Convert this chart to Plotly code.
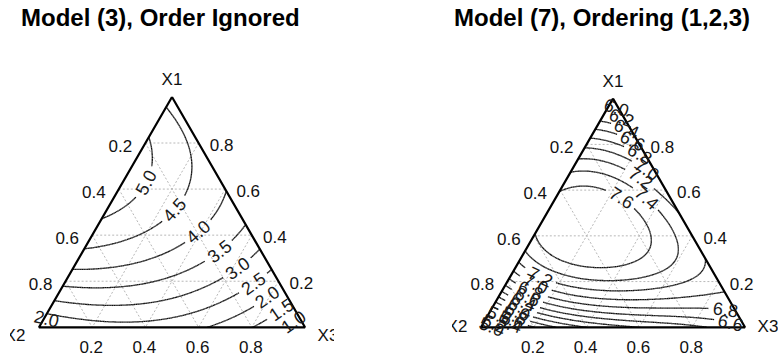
import numpy as np
import plotly.graph_objects as go

W, H = 778, 362

# Fitted mixture models, Scheffe-type polynomial coefficients for the terms
# x1, x2, x3, x1x2, x1x3, x2x3, x1x2(x1-x2), x1x3(x1-x3), x2x3(x2-x3), x1x2x3
coef_model3 = [4.27, 1.92, 0.65, 7.92, 5.0, 3.8, 0.0, 0.0, 0.0, -4.0]
coef_model7 = [5.8, 4.8, 6.6, 9.52, 4.0, 1.67, -2.0, 0.0, 1.67, 8.8]

# contour levels: start, end, step
levels_model3 = (1.0, 5.0, 0.5)
levels_model7 = (4.0, 7.6, 0.2)

titles = ["Model (3), Order Ignored", "Model (7), Ordering (1,2,3)"]
vertex_names = ["X1", "X2", "X3"]
ticks = [0.2, 0.4, 0.6, 0.8]
tick_text = ["0.2", "0.4", "0.6", "0.8"]

# where the contour values are written: a segment (mixture -> mixture), the
# levels labelled where the segment meets them, and a small text shift in px
label_paths_model3 = [
    ((0.64, 0.29, 0.07), (0.0, 0.02, 0.98), [5.0, 4.5, 4.0, 3.5, 3.0, 2.5, 2.0, 1.5, 1.0], (0, 0)),
    ((0.0, 1.0, 0.0), (0.2, 0.6, 0.2), [2.0], (5, 7)),
]
label_paths_model7 = [
    ((0.985, 0.005, 0.01), (0.40, 0.05, 0.55), [6.0, 6.2, 6.4, 6.6, 6.8, 7.0], (0, 0)),
    ((0.78, 0.04, 0.18), (0.45, 0.12, 0.43), [7.2, 7.4], (0, 0)),
    ((1.0, 0.0, 0.0), (0.3, 0.3, 0.4), [7.6], (0, 0)),
    ((0.34, 0.54, 0.12), (0.0, 0.90, 0.10), [7.2, 7.0, 6.8, 6.6, 6.4, 6.2, 6.0, 5.8, 5.6, 5.4], (0, 0)),
    ((0.16, 0.78, 0.06), (0.0, 0.96, 0.04), [5.6, 5.2, 5.0], (0, 0)),
    ((0.25, 0.0, 0.75), (0.0, 0.05, 0.95), [6.6, 6.8], (0, 0)),
]

SQ = np.sqrt(3) / 2
FONT = "Liberation Sans, Arial, sans-serif"
LABEL_SIZE = 18


def response(c, x1, x2, x3):
    return (c[0] * x1 + c[1] * x2 + c[2] * x3
            + c[3] * x1 * x2 + c[4] * x1 * x3 + c[5] * x2 * x3
            + c[6] * x1 * x2 * (x1 - x2) + c[7] * x1 * x3 * (x1 - x3)
            + c[8] * x2 * x3 * (x2 - x3) + c[9] * x1 * x2 * x3)


def to_xy(x1, x2, x3):
    # X2 at (0,0), X3 at (1,0), X1 at the apex
    x1, x2, x3 = np.asarray(x1, float), np.asarray(x2, float), np.asarray(x3, float)
    return x3 + 0.5 * x1, SQ * x1


def from_xy(u, v):
    x1 = v / SQ
    x3 = u - 0.5 * x1
    return x1, 1 - x1 - x3, x3


def simplex_mesh(n):
    # regular triangulation of the simplex
    index = {}
    pts = []
    for i in range(n + 1):
        for j in range(n + 1 - i):
            index[(i, j)] = len(pts)
            pts.append((i / n, 1 - i / n - j / n, j / n))
    tris = []
    for i in range(n):
        for j in range(n - i):
            tris.append((index[(i, j)], index[(i + 1, j)], index[(i, j + 1)]))
            if i + j <= n - 2:
                tris.append((index[(i + 1, j)], index[(i + 1, j + 1)], index[(i, j + 1)]))
    return np.array(pts), np.array(tris)


def level_segments(xy, f, tris, lev):
    # marching triangles: the piece of the level line inside every mesh cell
    fv = f[tris] - lev
    pv = xy[tris]
    cross, where = [], []
    for a, b in ((0, 1), (1, 2), (2, 0)):
        fa, fb = fv[:, a], fv[:, b]
        m = (fa > 0) != (fb > 0)
        den = np.where(m, fa - fb, 1.0)
        w = np.where(m, fa / den, 0.0)
        cross.append(m)
        where.append(pv[:, a] + (pv[:, b] - pv[:, a]) * w[:, None])
    C = np.stack(cross, 1)
    P = np.stack(where, 1)
    sel = C.sum(1) == 2
    C, P = C[sel], P[sel]
    order = np.argsort(~C, axis=1, kind="stable")[:, :2]
    r = np.arange(len(P))
    return P[r, order[:, 0]], P[r, order[:, 1]]


def surface_uv(c, u, v):
    return response(c, *from_xy(u, v))


def contour_labels(c, paths, side):
    out = []
    t = np.linspace(0, 1, 4001)
    for a, b, levs, (ox, oy) in paths:
        pts = np.outer(1 - t, a) + np.outer(t, b)
        f = response(c, pts[:, 0], pts[:, 1], pts[:, 2])
        for lev in levs:
            d = f - lev
            idx = np.where(np.sign(d[:-1]) != np.sign(d[1:]))[0]
            if len(idx) == 0:
                continue
            j = idx[0]
            w = d[j] / (d[j] - d[j + 1])
            p = pts[j] * (1 - w) + pts[j + 1] * w
            u, v = to_xy(*p)
            e = 1e-5
            gu = (surface_uv(c, u + e, v) - surface_uv(c, u - e, v)) / (2 * e)
            gv = (surface_uv(c, u, v + e) - surface_uv(c, u, v - e)) / (2 * e)
            ang = np.degrees(np.arctan2(gu, -gv))  # direction of the level line
            if ang > 90:
                ang -= 180
            if ang <= -90:
                ang += 180
            out.append((lev, float(u), float(v), float(ang), "%.1f" % lev,
                        float(u) + ox / side, float(v) + oy / side))
    return out


# panel placement in pixels: X2 corner x, side length, base line y, visible x-span
panels = [
    dict(x0=39.0, side=266.0, base=327.3, span=(10.0, 334.0), title_x=160.0,
         coef=coef_model3, lev=levels_model3, lab=label_paths_model3, corner_dy=-9),
    dict(x0=481.0, side=264.0, base=327.3, span=(452.0, 778.0), title_x=602.0,
         coef=coef_model7, lev=levels_model7, lab=label_paths_model7, corner_dy=0),
]

mesh_pts, mesh_tris = simplex_mesh(150)
mu, mv = to_xy(mesh_pts[:, 0], mesh_pts[:, 1], mesh_pts[:, 2])
mesh_xy = np.column_stack([mu, mv])

fig = go.Figure()
layout = dict(width=W, height=H, autosize=False, margin=dict(l=0, r=0, t=0, b=0),
              paper_bgcolor="white", plot_bgcolor="white", showlegend=False)

annotations = []
for i, p in enumerate(panels):
    ax = "" if i == 0 else str(i + 1)
    xa, ya = "x" + ax, "y" + ax
    s = p["side"]
    layout["xaxis" + ax] = dict(domain=[p["span"][0] / W, p["span"][1] / W],
                               range=[(p["span"][0] - p["x0"]) / s, (p["span"][1] - p["x0"]) / s],
                               visible=False, fixedrange=True, anchor=ya)
    layout["yaxis" + ax] = dict(domain=[0, 1], range=[(p["base"] - H) / s, p["base"] / s],
                               visible=False, fixedrange=True, anchor=xa)

    # dotted reference grid parallel to the three sides
    gx, gy = [], []
    for k in ticks:
        for a, b in (((k, 1 - k, 0), (k, 0, 1 - k)),
                     ((1 - k, k, 0), (0, k, 1 - k)),
                     ((1 - k, 0, k), (0, 1 - k, k))):
            xa_, ya_ = to_xy(*a)
            xb_, yb_ = to_xy(*b)
            gx += [float(xa_), float(xb_), None]
            gy += [float(ya_), float(yb_), None]
    fig.add_trace(go.Scatter(x=gx, y=gy, xaxis=xa, yaxis=ya, mode="lines",
                             line=dict(color="#b8b8b8", width=1, dash="2px,2px"),
                             hoverinfo="skip"))

    labels = contour_labels(p["coef"], p["lab"], s)

    # contour lines of the fitted surface, broken where a value is written
    fval = response(p["coef"], mesh_pts[:, 0], mesh_pts[:, 1], mesh_pts[:, 2])
    st, en, sz = p["lev"]
    cx, cy = [], []
    for lev in np.arange(st, en + sz / 2, sz):
        p0, p1 = level_segments(mesh_xy, fval, mesh_tris, lev)
        if len(p0) == 0:
            continue
        keep = np.ones(len(p0), bool)
        mid = (p0 + p1) / 2
        for lv, u, v, ang, txt, tu, tv in labels:
            if abs(lv - lev) > 1e-6:
                continue
            th = np.radians(ang)
            d = mid - np.array([u, v])
            along = d[:, 0] * np.cos(th) + d[:, 1] * np.sin(th)
            across = -d[:, 0] * np.sin(th) + d[:, 1] * np.cos(th)
            half_len = (0.28 * LABEL_SIZE * len(txt) + 2) / s
            keep &= ~((np.abs(along) < half_len) & (np.abs(across) < 0.6 * LABEL_SIZE / s))
        p0, p1 = p0[keep], p1[keep]
        nan = np.full(len(p0), np.nan)
        cx.append(np.column_stack([p0[:, 0], p1[:, 0], nan]).ravel())
        cy.append(np.column_stack([p0[:, 1], p1[:, 1], nan]).ravel())
    fig.add_trace(go.Scatter(x=np.concatenate(cx), y=np.concatenate(cy), xaxis=xa, yaxis=ya,
                             mode="lines", line=dict(color="#111111", width=1.3),
                             connectgaps=False, hoverinfo="skip"))

    # triangle outline
    tx, ty = to_xy([1, 0, 0, 1], [0, 1, 0, 0], [0, 0, 1, 0])
    fig.add_trace(go.Scatter(x=tx, y=ty, xaxis=xa, yaxis=ya, mode="lines",
                             line=dict(color="black", width=2.2), hoverinfo="skip"))

    # axis tick labels
    lx, ly, lt = [], [], []
    for k, t in zip(ticks, tick_text):
        # X2 values along the left side
        x, y = to_xy(1 - k, k, 0)
        lx.append(float(x) - 25 / s); ly.append(float(y) - 4.5 / s); lt.append(t)
        # X1 values along the right side
        x, y = to_xy(k, 0, 1 - k)
        lx.append(float(x) + 23 / s); ly.append(float(y) - 4 / s); lt.append(t)
        # X3 values along the base
        x, y = to_xy(0, 1 - k, k)
        lx.append(float(x) - 1 / s); ly.append(float(y) - 21 / s); lt.append(t)
    # vertex names
    cdy = p["corner_dy"]
    for (b, (dx, dy)), name in zip((((1, 0, 0), (0, 16)), ((0, 1, 0), (-24, cdy)),
                                    ((0, 0, 1), (23, cdy))), vertex_names):
        x, y = to_xy(*b)
        lx.append(float(x) + dx / s); ly.append(float(y) + dy / s); lt.append(name)
    fig.add_trace(go.Scatter(x=lx, y=ly, text=lt, xaxis=xa, yaxis=ya, mode="text",
                             textfont=dict(family=FONT, size=17, color="#111111"),
                             hoverinfo="skip", cliponaxis=True))

    # contour values written along the level lines
    for lv, u, v, ang, txt, tu, tv in labels:
        annotations.append(dict(text=txt, x=tu, y=tv, xref=xa, yref=ya, showarrow=False,
                                textangle=-ang, borderpad=0,
                                font=dict(family=FONT, size=LABEL_SIZE, color="#1a1a1a")))

    annotations.append(dict(text="<b>%s</b>" % titles[i], xref="paper", yref="paper",
                            x=p["title_x"] / W, y=1 - 17 / H, showarrow=False,
                            xanchor="center", yanchor="middle",
                            font=dict(family="Liberation Sans Narrow, Arial Narrow, Liberation Sans, sans-serif",
                                      size=24, color="black")))

layout["annotations"] = annotations
fig.update_layout(**layout)
fig.write_html("out.html")
